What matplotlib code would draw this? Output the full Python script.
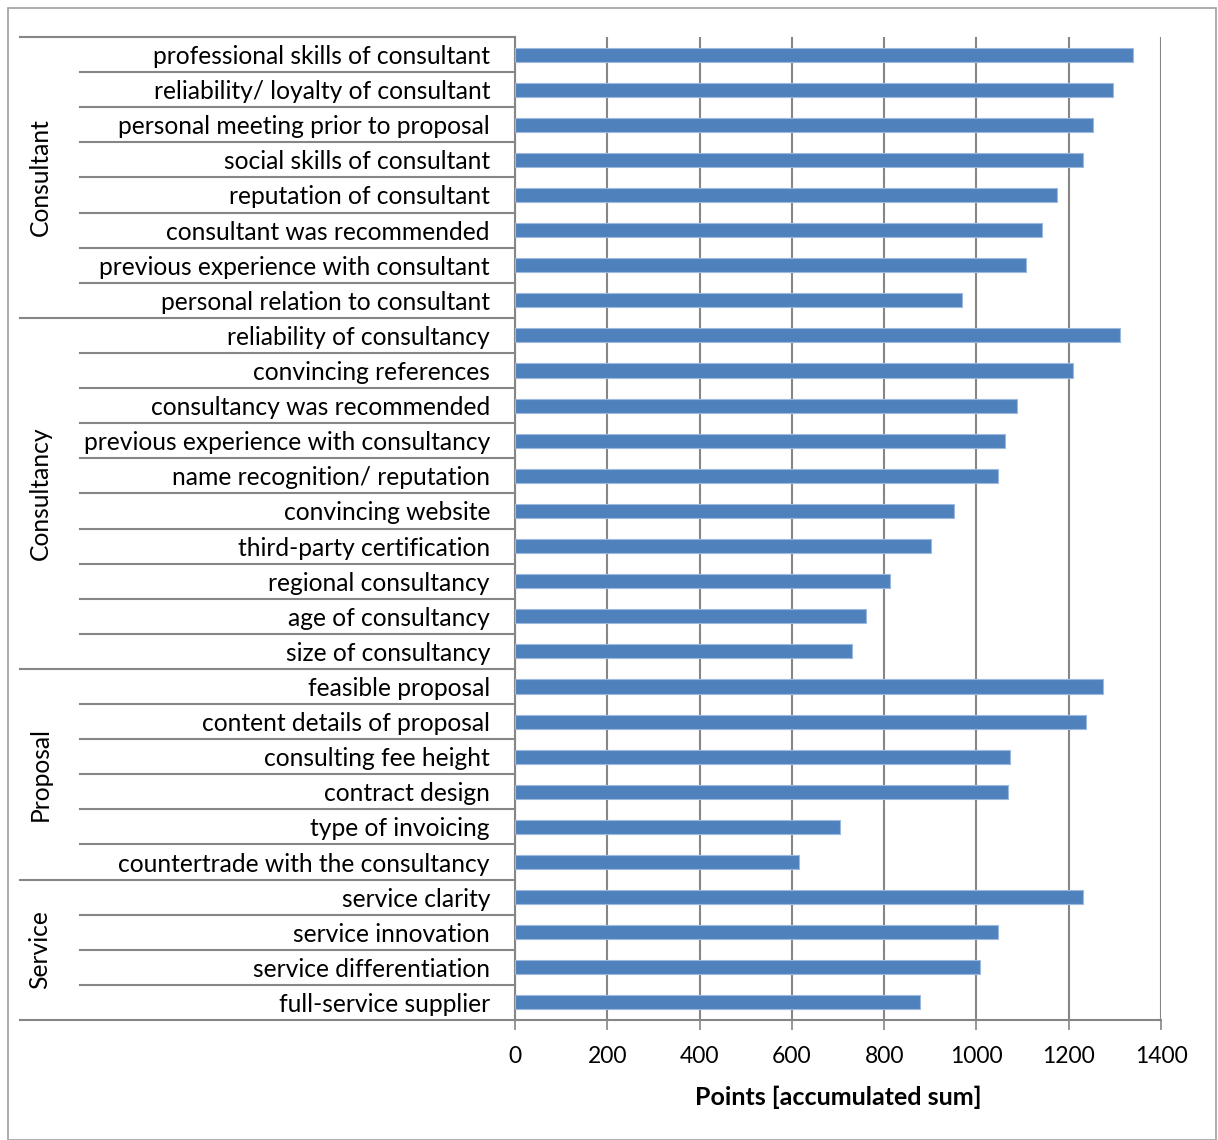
import matplotlib
matplotlib.use("Agg")
import matplotlib.pyplot as plt
from matplotlib.transforms import blended_transform_factory
from matplotlib.lines import Line2D
from matplotlib.patches import Rectangle

groups = ["Consultant", "Consultancy", "Proposal", "Service"]
items = [
    ["professional skills of consultant", "reliability/ loyalty of consultant",
     "personal meeting prior to proposal", "social skills of consultant",
     "reputation of consultant", "consultant was recommended",
     "previous experience with consultant", "personal relation to consultant"],
    ["reliability of consultancy", "convincing references",
     "consultancy was recommended", "previous experience with consultancy",
     "name recognition/ reputation", "convincing website",
     "third-party certification", "regional consultancy",
     "age of consultancy", "size of consultancy"],
    ["feasible proposal", "content details of proposal", "consulting fee height",
     "contract design", "type of invoicing", "countertrade with the consultancy"],
    ["service clarity", "service innovation", "service differentiation",
     "full-service supplier"],
]
values = [
    [1340, 1295, 1252, 1231, 1175, 1143, 1107, 969],
    [1312, 1209, 1089, 1063, 1047, 951, 901, 812, 760, 730],
    [1274, 1237, 1072, 1069, 704, 615],
    [1230, 1046, 1007, 878],
]
xticks = [0, 200, 400, 600, 800, 1000, 1200, 1400]
xlabel = "Points [accumulated sum]"

W, H = 1218, 1140
plt.rcParams['font.family'] = ['Lato', 'DejaVu Sans']
fig = plt.figure(figsize=(W / 100, H / 100), dpi=100)
fig.patch.set_facecolor("white")

x0, x1, ytop, ybot = 515, 1161, 37, 1020
ax = fig.add_axes([x0 / W, 1 - ybot / H, (x1 - x0) / W, (ybot - ytop) / H])

labels = [l for g in items for l in g]
vals = [v for g in values for v in g]
n = len(labels)
pos = list(range(n))

gcol = "#868686"
ax.barh(pos, vals, height=0.4, color="#4F81BD", edgecolor="#9DB9DF",
        linewidth=0.8, zorder=3)
ax.set_ylim(n - 0.5, -0.5)
ax.set_xlim(0, 1400)
ax.set_xticks(xticks)
ax.set_xticklabels([str(t) for t in xticks], fontsize=16.5)
ax.set_yticks(pos)
ax.set_yticklabels(labels, fontsize=17.7)
ax.tick_params(axis="y", length=0, pad=18)
ax.tick_params(axis="x", length=7, width=1.2, color=gcol, pad=12)
ax.grid(axis="x", color=gcol, linewidth=1.5, zorder=0)
ax.set_axisbelow(True)
for s in ["top", "right"]:
    ax.spines[s].set_visible(False)
for s in ["left", "bottom"]:
    ax.spines[s].set_color(gcol)
    ax.spines[s].set_linewidth(1.5)
ax.set_xlabel(xlabel, fontsize=18, fontweight="bold", labelpad=13)

tr = blended_transform_factory(fig.transFigure, ax.transData)
# separator lines between categories
idx = 0
group_starts = []
for gi, g in enumerate(items):
    group_starts.append(idx)
    for k in range(len(g)):
        yb = idx - 0.5
        xl = 20 / W if k == 0 else 80 / W
        ax.add_line(Line2D([xl, x0 / W], [yb, yb], transform=tr, color=gcol,
                           linewidth=1.5, clip_on=False))
        idx += 1
    ax.text(40 / W, (group_starts[-1] + idx - 1) / 2, groups[gi], transform=tr,
            rotation=90, ha="center", va="center", fontsize=17.7)
ax.add_line(Line2D([20 / W, x0 / W], [n - 0.5, n - 0.5], transform=tr,
                   color=gcol, linewidth=1.5, clip_on=False))

# outer border
fig.patches.append(Rectangle((8 / W, 0), (1216 - 8) / W, (H - 8) / H,
                             transform=fig.transFigure, fill=False,
                             edgecolor="#A0A0A0", linewidth=1.2))

fig.savefig("out.png", dpi=100)
